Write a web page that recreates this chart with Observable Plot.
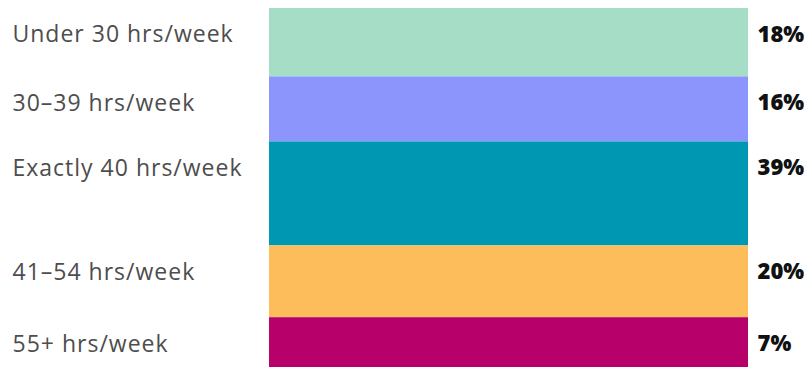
<!DOCTYPE html>
<html>
<head>
<meta charset="utf-8">
<script src="https://cdn.jsdelivr.net/npm/d3@7"></script>
<script src="https://cdn.jsdelivr.net/npm/@observablehq/plot@0.6"></script>
<style>
  html, body { margin: 0; padding: 0; background: #fff; }
  #chart svg { display: block; }
</style>
</head>
<body>
<div id="chart"></div>
<script>
const categories = ["Under 30 hrs/week", "30–39 hrs/week", "Exactly 40 hrs/week", "41–54 hrs/week", "55+ hrs/week"];
const values = [18, 16, 39, 20, 7];
const colors = ["#a6ddc6", "#8c95fc", "#0097b3", "#fdbd5b", "#b8006b"];

// each band gets a fixed minimum share (in % units) plus its value
const minShare = 22.4;

const data = categories.map((c, i) => ({label: c, value: values[i], pct: values[i] + "%"}));
const weight = d => d.value + minShare;

const chart = Plot.plot({
  width: 810,
  height: 367,
  marginTop: 8,
  marginBottom: 0,
  marginLeft: 269,
  marginRight: 62,
  x: {domain: [0, 1], axis: null},
  y: {axis: null, reverse: true},
  color: {domain: categories, range: colors},
  style: {fontFamily: "'Open Sans', sans-serif"},
  marks: [
    Plot.rectY(data, Plot.stackY({x1: 0, x2: 1, y: weight, fill: "label", order: null})),
    Plot.text(data, Plot.stackY1({y: weight, text: "label", order: null, frameAnchor: "left", dx: -257, dy: 26.5,
      textAnchor: "start", fontSize: 23, fill: "#4d4d4d", fontWeight: 400})),
    Plot.text(data, Plot.stackY1({y: weight, text: "pct", order: null, frameAnchor: "right", dx: 9, dy: 26.5,
      textAnchor: "start", fontSize: 22, fill: "#111", fontWeight: 800})),
  ]
});
// widen the category labels slightly (Poppins-like spacing)
d3.select(chart).selectAll("g[aria-label='text']").filter((_, i) => i === 0).style("letter-spacing", "1px");
document.getElementById("chart").appendChild(chart);
</script>
</body>
</html>
